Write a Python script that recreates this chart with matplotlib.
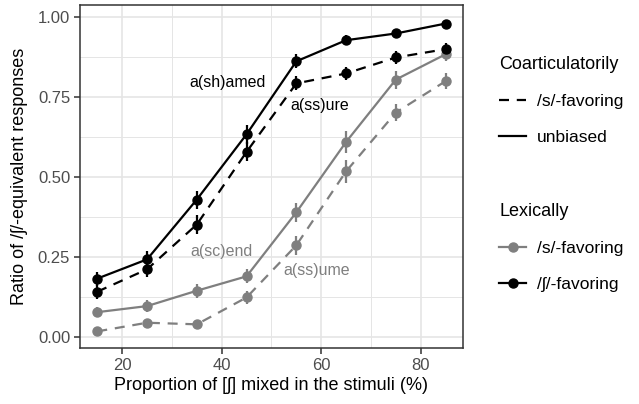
import numpy as np
import matplotlib
matplotlib.use('Agg')
import matplotlib.pyplot as plt
from matplotlib.lines import Line2D

plt.rcParams['font.family'] = ['Liberation Sans', 'DejaVu Sans']

# data
proportion = [15, 25, 35, 45, 55, 65, 75, 85]

# lexically /ʃ/-favoring
sh_unbiased = [0.183, 0.243, 0.430, 0.634, 0.862, 0.928, 0.949, 0.980]
sh_unbiased_se = [0.022, 0.025, 0.028, 0.030, 0.022, 0.015, 0.012, 0.010]
sh_sfav = [0.142, 0.212, 0.352, 0.579, 0.793, 0.824, 0.874, 0.900]
sh_sfav_se = [0.022, 0.025, 0.030, 0.030, 0.022, 0.020, 0.020, 0.018]

# lexically /s/-favoring
s_unbiased = [0.078, 0.097, 0.145, 0.190, 0.390, 0.610, 0.805, 0.884]
s_unbiased_se = [0.015, 0.018, 0.022, 0.022, 0.030, 0.035, 0.028, 0.020]
s_sfav = [0.018, 0.045, 0.040, 0.124, 0.287, 0.518, 0.702, 0.800]
s_sfav_se = [0.008, 0.010, 0.010, 0.020, 0.030, 0.035, 0.028, 0.025]

labels = ['a(sh)amed', 'a(ss)ure', 'a(sc)end', 'a(ss)ume']
label_x = [41.2, 59.8, 39.9, 59.0]
label_y = [0.797, 0.723, 0.269, 0.209]
label_col = ['black', 'black', '#7f7f7f', '#7f7f7f']

GRAY = '#7f7f7f'
DASH = (0, (4.5, 3.5))
LW = 1.6

fig = plt.figure(figsize=(6.39, 4.04), dpi=100)
ax = fig.add_axes([0.125, 0.1386, 0.5996, 0.849])

series = [
    (s_sfav, s_sfav_se, GRAY, DASH),
    (s_unbiased, s_unbiased_se, GRAY, '-'),
    (sh_sfav, sh_sfav_se, 'black', DASH),
    (sh_unbiased, sh_unbiased_se, 'black', '-'),
]
for y, se, col, ls in series:
    y = np.array(y)
    se = np.array(se)
    ax.plot(proportion, y, color=col, linestyle=ls, linewidth=LW, zorder=3)
    ax.vlines(proportion, y - se, y + se, color=col, linewidth=LW, zorder=3)
    ax.plot(proportion, y, 'o', color=col, markersize=6.5, zorder=4)

for t, x, y, c in zip(labels, label_x, label_y, label_col):
    ax.text(x, y, t, color=c, fontsize=11.5, ha='center', va='center')

ax.set_xlim(11.5, 88.5)
ax.set_ylim(-0.034, 1.038)
ax.set_xticks([20, 40, 60, 80])
ax.set_xticks([30, 50, 70], minor=True)
ax.set_yticks([0, 0.25, 0.5, 0.75, 1.0])
ax.set_yticklabels(['0.00', '0.25', '0.50', '0.75', '1.00'])
ax.set_yticks([0.125, 0.375, 0.625, 0.875], minor=True)
ax.grid(which='major', color='#e5e5e5', linewidth=1.2, zorder=0)
ax.grid(which='minor', color='#e5e5e5', linewidth=0.7, zorder=0)
ax.set_axisbelow(True)
for sp in ax.spines.values():
    sp.set_color('#333333')
    sp.set_linewidth(1.1)
ax.tick_params(which='major', length=4, color='#333333', labelsize=12,
               labelcolor='#4d4d4d', width=1.1, pad=3)
ax.tick_params(which='minor', length=0)

ax.set_xlabel('Proportion of [ʃ] mixed in the stimuli (%)', fontsize=13, labelpad=3)
ax.set_ylabel('Ratio of /ʃ/-equivalent responses', fontsize=13, labelpad=7)

# legends
h1 = [Line2D([], [], color='black', linestyle=DASH, linewidth=LW),
      Line2D([], [], color='black', linestyle='-', linewidth=LW)]
leg1 = fig.legend(h1, ['/s/-favoring', 'unbiased'], title='Coarticulatorily',
                  loc='upper left', bbox_to_anchor=(0.757, 0.9), frameon=False,
                  fontsize=12.5, title_fontsize=13, handlelength=1.55,
                  handletextpad=0.6, labelspacing=1.2, alignment='left')
h2 = [Line2D([], [], color=GRAY, marker='o', markersize=6.5, linewidth=LW),
      Line2D([], [], color='black', marker='o', markersize=6.5, linewidth=LW)]
leg2 = fig.legend(h2, ['/s/-favoring', '/ʃ/-favoring'], title='Lexically',
                  loc='upper left', bbox_to_anchor=(0.757, 0.535), frameon=False,
                  fontsize=12.5, title_fontsize=13, handlelength=1.55,
                  handletextpad=0.6, labelspacing=1.2, alignment='left')

fig.savefig('out.png', dpi=100)
